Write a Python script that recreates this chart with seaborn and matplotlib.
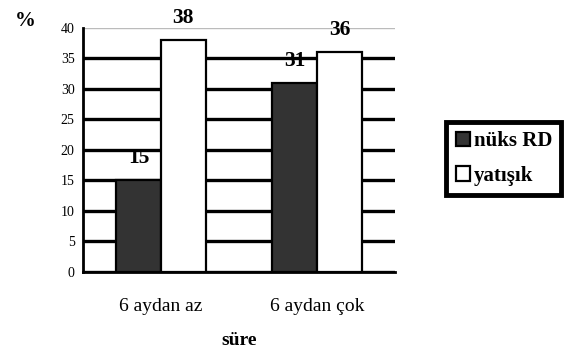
import matplotlib
matplotlib.use("Agg")
import matplotlib.pyplot as plt
import pandas as pd
import seaborn as sns

categories = ["6 aydan az", "6 aydan çok"]
series_names = ["nüks RD", "yatışık"]
nuks_rd = [15, 31]
yatisik = [38, 36]
y_ticks = [0, 5, 10, 15, 20, 25, 30, 35, 40]

df = pd.DataFrame({
    "süre": categories * 2,
    "grup": [series_names[0]] * 2 + [series_names[1]] * 2,
    "değer": nuks_rd + yatisik,
})

sns.set_theme(style="white")
plt.rcParams["font.family"] = ["Liberation Serif", "DejaVu Serif"]
plt.rcParams["text.color"] = "black"
plt.rcParams["axes.labelcolor"] = "black"
plt.rcParams["xtick.color"] = "black"
plt.rcParams["ytick.color"] = "black"

fig = plt.figure(figsize=(5.7, 3.53), dpi=100)
ax = fig.add_axes([0.1456, 0.2295, 0.5474, 0.6912])

sns.barplot(
    data=df, x="süre", y="değer", hue="grup",
    palette=["#333333", "#ffffff"], width=0.575,
    edgecolor="black", linewidth=1.6, ax=ax, zorder=3,
)

ax.set_xlim(-0.5, 1.5)
ax.set_ylim(0, 40)
ax.set_yticks(y_ticks)
ax.set_yticklabels([str(t) for t in y_ticks], fontsize=10)
ax.tick_params(axis="y", direction="out", length=4, width=2, pad=2)
ax.tick_params(axis="x", which="major", length=0, labelsize=14, pad=19)
ax.set_xticks([-0.5, 0.5, 1.5], minor=True)
ax.tick_params(axis="x", which="minor", direction="out", length=5, width=2)

ax.yaxis.grid(True, color="black", linewidth=2.4, zorder=0)
ax.set_axisbelow(True)
gl = ax.get_ygridlines()
gl[-1].set_color("#bbbbbb")
gl[-1].set_linewidth(1)

for side in ["top", "right"]:
    ax.spines[side].set_visible(False)
for side in ["left", "bottom"]:
    ax.spines[side].set_linewidth(2)
    ax.spines[side].set_color("black")

for cont in ax.containers:
    for bar in cont:
        h = bar.get_height()
        ax.annotate(f"{h:.0f}", (bar.get_x() + bar.get_width() / 2, h),
                    xytext=(0, 16), textcoords="offset points",
                    ha="center", va="center", fontsize=15.5, fontweight="bold",
                    zorder=5)

ax.set_xlabel("süre", fontsize=14, fontweight="bold", labelpad=12)
ax.set_ylabel("")
fig.text(0.044, 0.94, "%", fontsize=15, fontweight="bold", ha="center", va="center")

leg = ax.legend(loc="center left", bbox_to_anchor=(1.165, 0.465), frameon=True,
                fancybox=False, framealpha=1, prop={"weight": "bold", "size": 15},
                handlelength=0.7, handleheight=0.7, handletextpad=0.15,
                borderpad=0.45, labelspacing=0.7, borderaxespad=0)
leg.get_frame().set_edgecolor("black")
leg.get_frame().set_linewidth(3.5)

fig.savefig("out.png", dpi=100)
